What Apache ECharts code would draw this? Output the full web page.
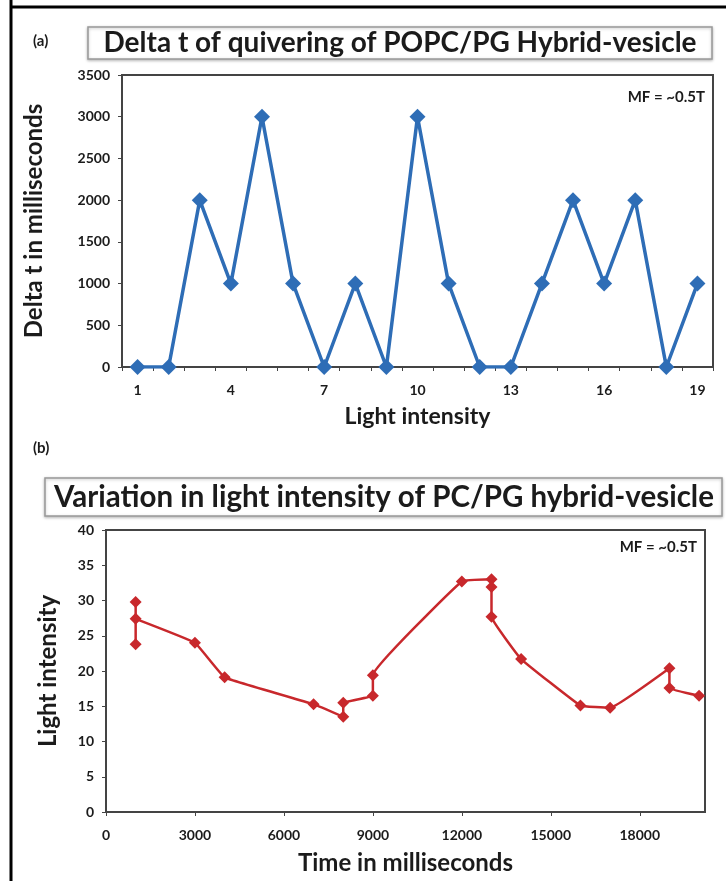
<!DOCTYPE html>
<html><head><meta charset="utf-8">
<script src="https://cdn.jsdelivr.net/npm/echarts@6/dist/echarts.min.js"></script>
<style>html,body{margin:0;padding:0;background:#fff}#c{width:726px;height:881px}</style>
</head><body><div id="c"></div>
<script>
// ---- data ----
const lightCategories = ['1','2','3','4','5','6','7','8','9','10','11','12','13','14','15','16','17','18','19'];
const deltaT = [0,0,2000,1000,3000,1000,0,1000,0,3000,1000,0,0,1000,2000,1000,2000,0,1000];
const timeMs = [1000,1000,1000,3000,4000,7000,8000,8000,9000,9000,12000,13000,13000,13000,14000,16000,17000,19000,19000,20000];
const intensity = [29.8,23.8,27.4,24.0,19.1,15.3,13.5,15.5,16.5,19.4,32.7,33.0,31.9,27.7,21.7,15.1,14.8,20.4,17.6,16.5];
const topTicks = [0,500,1000,1500,2000,2500,3000,3500];
const bottomTicks = [0,5,10,15,20,25,30,35,40];
const titleA = 'Delta t of quivering of POPC/PG Hybrid-vesicle';
const titleB = 'Variation in light intensity of PC/PG hybrid-vesicle';

const FONT = 'Lato';
const TXT = '#1b1b1b';
const chart = echarts.init(document.getElementById('c'));
const plain = v => String(v);
const axisLbl = {color: TXT, fontFamily: FONT, fontWeight: 'bold', fontSize: 14, formatter: plain};
chart.setOption({
  animation: false,
  backgroundColor: '#fff',
  grid: [
    {left: 122, right: 13, top: 75, height: 292, show: true, borderColor: '#444', borderWidth: 2},
    {left: 106, right: 21, top: 530, height: 282, show: true, borderColor: '#444', borderWidth: 2}
  ],
  xAxis: [
    {gridIndex: 0, type: 'category', data: lightCategories, boundaryGap: true,
     name: 'Light intensity', nameLocation: 'middle', nameGap: 38,
     nameTextStyle: {color: TXT, fontFamily: FONT, fontSize: 23, fontWeight: 'bold'},
     axisLine: {lineStyle: {color: '#444', width: 2}},
     axisTick: {show: true, interval: 0, length: 4, lineStyle: {color: '#444'}},
     axisLabel: Object.assign({interval: 2, margin: 16}, axisLbl)},
    {gridIndex: 1, type: 'value', min: 0, max: 20200, interval: 3000,
     name: 'Time in milliseconds', nameLocation: 'middle', nameGap: 39,
     nameTextStyle: {color: TXT, fontFamily: FONT, fontSize: 24, fontWeight: 'bold'},
     splitLine: {show: false},
     axisLine: {lineStyle: {color: '#444', width: 2}},
     axisTick: {show: true, length: 4, lineStyle: {color: '#444'}},
     axisLabel: Object.assign({showMaxLabel: false, margin: 16}, axisLbl)}
  ],
  yAxis: [
    {gridIndex: 0, type: 'value', min: topTicks[0], max: topTicks[topTicks.length-1], interval: 500,
     name: 'Delta t in milliseconds', nameLocation: 'middle', nameGap: 76, nameRotate: 90,
     nameTextStyle: {color: TXT, fontFamily: FONT, fontSize: 24, fontWeight: 'bold'},
     splitLine: {show: false},
     axisLine: {show: true, lineStyle: {color: '#444', width: 2}},
     axisTick: {show: true, length: 4, lineStyle: {color: '#444'}},
     axisLabel: Object.assign({margin: 12}, axisLbl)},
    {gridIndex: 1, type: 'value', min: bottomTicks[0], max: bottomTicks[bottomTicks.length-1], interval: 5,
     name: 'Light intensity', nameLocation: 'middle', nameGap: 46, nameRotate: 90,
     nameTextStyle: {color: TXT, fontFamily: FONT, fontSize: 24, fontWeight: 'bold'},
     splitLine: {show: false},
     axisLine: {show: true, lineStyle: {color: '#444', width: 2}},
     axisTick: {show: true, length: 4, lineStyle: {color: '#444'}},
     axisLabel: Object.assign({margin: 12}, axisLbl)}
  ],
  series: [
    {type: 'line', xAxisIndex: 0, yAxisIndex: 0, data: deltaT,
     symbol: 'diamond', symbolSize: 16, lineStyle: {color: '#2E6DB6', width: 3.5},
     itemStyle: {color: '#2E6DB6'}},
    {type: 'line', xAxisIndex: 1, yAxisIndex: 1,
     data: timeMs.map((t, i) => [t, intensity[i]]),
     smooth: 0.08, symbol: 'diamond', symbolSize: 12,
     lineStyle: {color: '#C8282C', width: 2.5}, itemStyle: {color: '#C8282C'}}
  ],
  graphic: [
    {type: 'line', shape: {x1: 11, y1: 0, x2: 11, y2: 881}, style: {stroke: '#000', lineWidth: 3}},
    {type: 'line', shape: {x1: 10, y1: 7, x2: 726, y2: 7}, style: {stroke: '#000', lineWidth: 3}},
    {type: 'text', left: 33, top: 34, style: {text: '(a)', fill: TXT, font: 'bold 15px Lato'}},
    {type: 'rect', shape: {x: 88, y: 27, width: 624, height: 32},
     style: {fill: '#fff', stroke: '#999', lineWidth: 1.5, shadowBlur: 3, shadowColor: 'rgba(0,0,0,0.25)', shadowOffsetY: 1}},
    {type: 'text', x: 400, y: 43, style: {text: titleA, fill: TXT, font: 'bold 28px Lato', align: 'center', verticalAlign: 'middle'}},
    {type: 'text', x: 705, y: 97, style: {text: 'MF = ~0.5T', fill: TXT, font: 'bold 15px Lato', align: 'right', verticalAlign: 'middle'}},
    {type: 'text', left: 33, top: 441, style: {text: '(b)', fill: TXT, font: 'bold 15px Lato'}},
    {type: 'rect', shape: {x: 45, y: 478, width: 677, height: 38},
     style: {fill: '#fff', stroke: '#999', lineWidth: 1.5, shadowBlur: 3, shadowColor: 'rgba(0,0,0,0.25)', shadowOffsetY: 1}},
    {type: 'text', x: 384, y: 497, style: {text: titleB, fill: TXT, font: 'bold 29.5px Lato', align: 'center', verticalAlign: 'middle'}},
    {type: 'text', x: 697, y: 547, style: {text: 'MF = ~0.5T', fill: TXT, font: 'bold 15px Lato', align: 'right', verticalAlign: 'middle'}}
  ]
});
</script></body></html>
